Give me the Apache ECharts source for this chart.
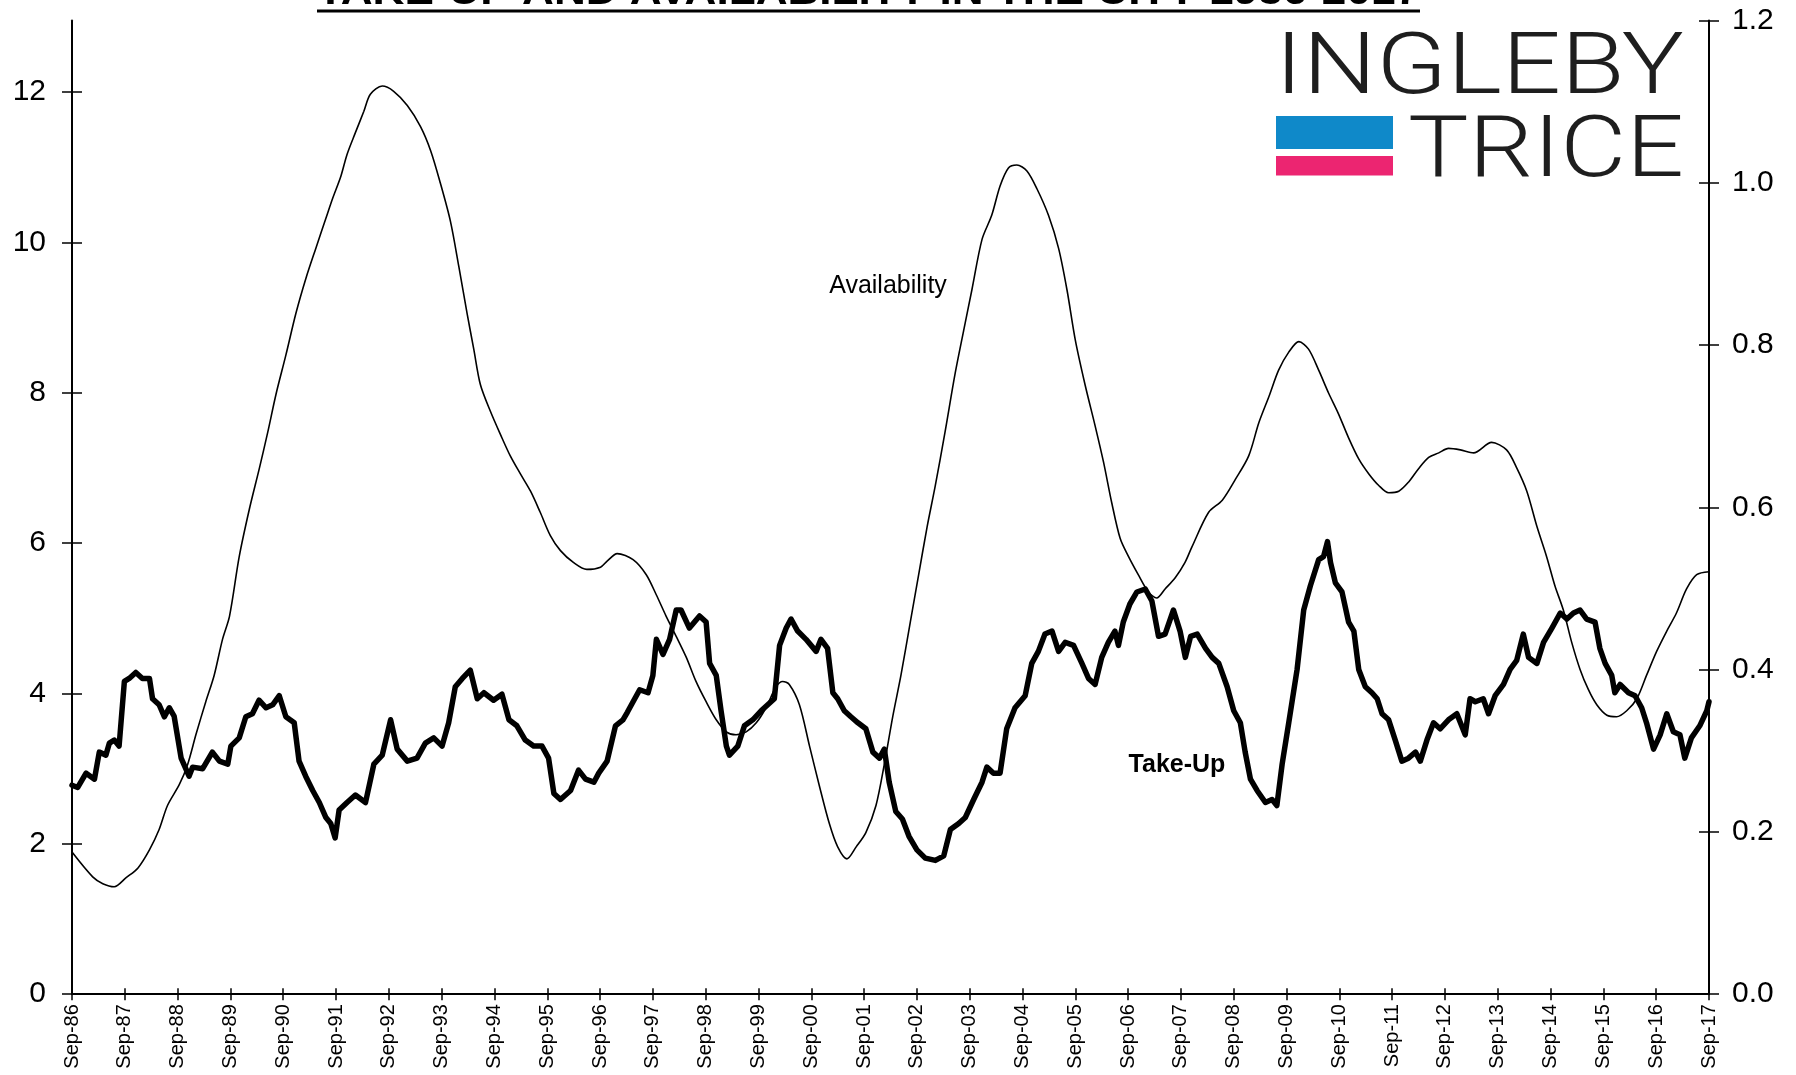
<!DOCTYPE html>
<html>
<head>
<meta charset="utf-8">
<script src="https://cdn.jsdelivr.net/npm/echarts/dist/echarts.min.js"></script>
<style>
html,body{margin:0;padding:0;background:#fff;}
#c{width:1796px;height:1075px;}
</style>
</head>
<body>
<div id="c"></div>
<script>
// ---- DATA ----
const xTickLabels = ['Sep-86','Sep-87','Sep-88','Sep-89','Sep-90','Sep-91','Sep-92','Sep-93','Sep-94','Sep-95','Sep-96','Sep-97','Sep-98','Sep-99','Sep-00','Sep-01','Sep-02','Sep-03','Sep-04','Sep-05','Sep-06','Sep-07','Sep-08','Sep-09','Sep-10','Sep-11','Sep-12','Sep-13','Sep-14','Sep-15','Sep-16','Sep-17'];
const leftTicks = [0, 2, 4, 6, 8, 10, 12];
const rightTicks = [0, 0.2, 0.4, 0.6, 0.8, 1.0, 1.2];

// months counted from Sep-86 (0) to Sep-17 (372)
const availMonths = [0,4.7,7.0,9.6,12.3,15.0,17.6,19.8,21.7,24.4,26.3,28.2,30.4,32.3,34.2,35.8,38.0,40.3,42.6,44.5,46.4,48.6,50.9,53.2,55.4,57.7,59.2,61.1,62.5,64.4,66.3,67.8,70.5,73.1,76.2,79.2,81.5,83.7,86.0,87.9,89.8,91.3,92.8,95.1,97.4,99.6,101.9,104.2,106.4,108.7,111.0,114.0,117.0,120.1,121.6,123.9,127.5,130.5,132.8,135.0,137.3,139.6,141.8,144.1,146.4,148.7,150.9,153.2,155.5,157.7,160.0,161.5,163.0,165.3,167.6,169.8,172.1,174.0,176.1,178.2,180.4,182.7,184.6,186.5,188.4,190.5,192.4,194.3,196.2,198.4,200.7,202.6,204.5,206.8,209.0,210.9,212.8,214.7,217.0,219.3,221.9,224.2,226.1,228.0,230.2,232.5,234.4,236.3,238.2,240.1,242.3,244.6,246.5,248.4,250.7,252.9,254.5,258.3,261.4,264.4,267.4,269.7,272.0,274.2,276.5,278.8,281.0,283.3,285.6,287.8,290.1,292.4,294.7,296.9,299.2,301.5,303.7,306.0,308.3,310.6,312.8,315.5,318.5,322.6,326.0,328.3,330.6,332.9,335.1,337.0,338.9,340.8,342.7,344.6,346.5,348.8,351.0,353.3,355.6,357.8,360.1,362.4,364.6,366.9,369.2,372];
const availValues = [1.89,1.56,1.47,1.43,1.55,1.68,1.92,2.19,2.51,2.79,3.06,3.46,3.89,4.24,4.72,5.03,5.82,6.45,7.00,7.48,7.99,8.50,9.06,9.53,9.92,10.32,10.58,10.88,11.17,11.46,11.74,11.97,12.08,12.01,11.82,11.54,11.22,10.79,10.28,9.68,9.05,8.58,8.11,7.75,7.44,7.16,6.92,6.69,6.41,6.10,5.90,5.74,5.65,5.68,5.76,5.86,5.78,5.58,5.31,5.03,4.76,4.48,4.16,3.89,3.65,3.49,3.45,3.49,3.61,3.81,4.09,4.16,4.12,3.85,3.30,2.78,2.27,1.96,1.80,1.96,2.15,2.51,3.06,3.69,4.25,4.95,5.58,6.21,6.77,7.48,8.26,8.82,9.37,10.04,10.36,10.75,10.99,11.03,10.95,10.71,10.36,9.92,9.37,8.70,8.11,7.56,7.08,6.53,6.06,5.82,5.58,5.35,5.27,5.39,5.54,5.74,5.95,6.41,6.57,6.85,7.16,7.60,7.95,8.30,8.54,8.68,8.58,8.30,7.99,7.72,7.40,7.12,6.92,6.77,6.67,6.69,6.81,6.99,7.14,7.20,7.26,7.24,7.20,7.34,7.24,7.00,6.69,6.22,5.82,5.43,5.11,4.68,4.32,4.05,3.85,3.71,3.69,3.77,3.93,4.24,4.56,4.83,5.07,5.39,5.58,5.62];

const takeUpMonths = [0,1.3,3.2,5.1,6.2,7.7,8.5,9.6,10.7,11.9,13.0,14.5,16.0,17.6,18.3,19.8,21.0,22.1,23.2,24.8,26.6,27.4,29.7,31.9,33.5,35.4,36.1,38.0,39.5,41.0,42.5,44.1,45.6,47.1,48.6,50.5,51.6,53.1,54.7,56.2,57.7,58.8,59.8,60.7,62.5,64.4,66.7,68.6,70.5,72.4,73.9,76.2,78.4,80.3,82.2,84.1,85.6,87.1,88.7,90.5,92.1,93.6,95.8,97.7,99.3,101.1,103.0,104.9,106.8,108.3,109.5,111.0,113.3,115.1,116.7,118.6,119.7,121.6,123.5,125.2,126.2,127.5,129.0,130.9,132.0,132.8,134.3,135.8,137.3,138.4,140.3,142.6,144.1,144.9,146.4,147.5,148.7,149.4,151.3,152.8,154.7,156.6,158.1,159.6,160.8,162.3,163.4,164.9,166.8,169.1,170.2,171.7,172.9,174.0,175.5,177.0,178.6,180.4,182.0,183.5,184.6,185.7,187.2,188.7,190.2,192.0,193.9,196.2,198.1,199.6,201.5,203.0,204.9,206.8,207.9,209.4,210.9,212.4,214.3,216.6,218.1,219.6,221.1,222.7,224.2,225.7,227.6,229.5,231.0,232.5,234.0,235.5,237.0,237.8,238.9,240.4,242.0,243.9,245.4,246.9,248.4,250.3,251.8,253.0,254.2,255.7,257.6,259.1,260.6,262.5,264.0,265.5,266.6,267.8,269.3,271.2,272.7,273.8,275.0,276.5,278.4,279.9,281.4,283.3,284.4,285.3,286.0,287.1,288.6,290.1,291.3,292.4,293.9,295.4,296.6,297.7,299.2,300.7,302.2,303.7,305.3,306.4,307.9,309.4,310.9,312.8,314.7,316.6,317.7,318.9,320.7,321.9,323.4,325.3,326.8,328.3,329.8,331.0,332.9,334.4,336.3,338.2,339.7,341.2,342.7,344.2,346.1,347.2,348.4,349.9,350.6,351.8,353.7,355.2,356.7,357.8,359.4,360.9,362.4,363.9,365.4,366.5,368.0,369.9,371.5,372];
const takeUpValues = [2.78,2.75,2.94,2.86,3.22,3.18,3.34,3.38,3.30,4.16,4.20,4.28,4.20,4.20,3.93,3.85,3.69,3.81,3.70,3.14,2.90,3.02,3.00,3.22,3.10,3.06,3.30,3.41,3.69,3.73,3.91,3.81,3.85,3.97,3.69,3.61,3.10,2.90,2.71,2.55,2.35,2.27,2.08,2.45,2.55,2.65,2.55,3.06,3.18,3.65,3.26,3.10,3.14,3.34,3.41,3.30,3.61,4.09,4.20,4.31,3.93,4.01,3.91,3.99,3.65,3.57,3.38,3.30,3.30,3.14,2.67,2.59,2.71,2.98,2.86,2.82,2.94,3.10,3.57,3.65,3.75,3.89,4.05,4.01,4.24,4.72,4.52,4.72,5.11,5.11,4.87,5.03,4.95,4.40,4.24,3.77,3.30,3.18,3.30,3.57,3.65,3.77,3.85,3.93,4.64,4.87,4.99,4.83,4.72,4.56,4.72,4.60,4.01,3.93,3.77,3.69,3.61,3.53,3.22,3.14,3.26,2.82,2.43,2.33,2.10,1.92,1.81,1.78,1.84,2.19,2.27,2.35,2.59,2.82,3.02,2.94,2.94,3.53,3.81,3.97,4.40,4.56,4.79,4.83,4.56,4.68,4.64,4.40,4.20,4.12,4.48,4.68,4.83,4.64,4.95,5.19,5.35,5.39,5.23,4.76,4.79,5.11,4.83,4.48,4.76,4.79,4.60,4.48,4.40,4.09,3.77,3.61,3.22,2.86,2.71,2.55,2.59,2.51,3.06,3.61,4.32,5.11,5.43,5.78,5.82,6.02,5.74,5.47,5.35,4.95,4.83,4.32,4.09,4.01,3.93,3.73,3.65,3.38,3.10,3.14,3.22,3.10,3.38,3.61,3.53,3.65,3.73,3.45,3.93,3.89,3.93,3.73,3.97,4.12,4.32,4.44,4.79,4.48,4.40,4.68,4.87,5.07,4.99,5.07,5.11,4.99,4.95,4.60,4.40,4.24,4.01,4.12,4.01,3.97,3.81,3.61,3.26,3.45,3.73,3.49,3.45,3.14,3.41,3.57,3.77,3.89];

// ---- helpers ----
const FONT = '"Liberation Sans", Arial, sans-serif';
const ctx = document.createElement('canvas').getContext('2d');
function fitScale(text, font, width) { ctx.font = font; return width / ctx.measureText(text).width; }

const availData = availMonths.map((m, i) => [m, availValues[i]]);
const takeUpData = takeUpMonths.map((m, i) => [m, takeUpValues[i]]);

const titleText = 'TAKE-UP AND AVAILABILITY IN THE CITY 1986-2017';
const titleFont = 'bold 40px ' + FONT;
const logoFont = '300 86px Roboto, "Liberation Sans", sans-serif';

const black = '#000';
const tickStyle = { color: black, width: 1.5 };

const option = {
  animation: false,
  backgroundColor: '#fff',
  grid: { left: 72, right: 87, top: 20.6, bottom: 80.8, containLabel: false },
  xAxis: [
    {
      type: 'value', min: 0, max: 372, interval: 12, position: 'bottom',
      axisLine: { show: true, onZero: false, lineStyle: { color: black, width: 2 } },
      axisTick: { show: true, inside: false, length: 6, lineStyle: tickStyle },
      axisLabel: {
        rotate: 90, margin: 10, fontSize: 20, fontFamily: FONT, color: black,
        formatter: v => xTickLabels[Math.round(v / 12)]
      },
      splitLine: { show: false }
    },
    {
      type: 'value', min: 0, max: 372, interval: 12, position: 'bottom',
      axisLine: { show: false, onZero: false },
      axisTick: { show: true, inside: true, length: 6, lineStyle: tickStyle },
      axisLabel: { show: false },
      splitLine: { show: false }
    }
  ],
  yAxis: [
    {
      type: 'value', min: 0, max: 12.95, position: 'left',
      axisLine: { show: true, onZero: false, lineStyle: { color: black, width: 2 } },
      axisTick: { show: true, inside: false, length: 10, lineStyle: tickStyle, customValues: leftTicks },
      axisLabel: { margin: 26, fontSize: 30, fontFamily: FONT, color: black, customValues: leftTicks, formatter: v => String(v) },
      splitLine: { show: false }
    },
    {
      type: 'value', min: 0, max: 1.2, position: 'right',
      axisLine: { show: true, onZero: false, lineStyle: { color: black, width: 2 } },
      axisTick: { show: true, inside: false, length: 10, lineStyle: tickStyle, customValues: rightTicks },
      axisLabel: { margin: 23, fontSize: 30, fontFamily: FONT, color: black, customValues: rightTicks, formatter: v => v.toFixed(1) },
      splitLine: { show: false }
    },
    {
      type: 'value', min: 0, max: 12.95, position: 'left',
      axisLine: { show: false, onZero: false },
      axisTick: { show: true, inside: true, length: 10, lineStyle: tickStyle, customValues: leftTicks },
      axisLabel: { show: false },
      splitLine: { show: false }
    },
    {
      type: 'value', min: 0, max: 1.2, position: 'right',
      axisLine: { show: false, onZero: false },
      axisTick: { show: true, inside: true, length: 10, lineStyle: tickStyle, customValues: rightTicks },
      axisLabel: { show: false },
      splitLine: { show: false }
    }
  ],
  series: [
    {
      name: 'Availability', type: 'line', xAxisIndex: 0, yAxisIndex: 0,
      data: availData, showSymbol: false, smooth: 0.3,
      lineStyle: { color: black, width: 1.6 }, z: 2
    },
    {
      name: 'Take-Up', type: 'line', xAxisIndex: 0, yAxisIndex: 0,
      data: takeUpData, showSymbol: false, smooth: false,
      lineStyle: { color: black, width: 5.5, join: 'round', cap: 'round' }, z: 3
    }
  ],
  graphic: [
    {
      type: 'text', x: 317, y: -7.3, scaleX: fitScale(titleText, titleFont, 1103),
      style: { text: titleText, font: titleFont, fill: black, textAlign: 'left', textVerticalAlign: 'middle' }
    },
    { type: 'rect', shape: { x: 317, y: 9.5, width: 1103, height: 3 }, style: { fill: black } },
    {
      type: 'text', x: 1275, y: 71, scaleX: fitScale('INGLEBY', logoFont, 409),
      style: { text: 'INGLEBY', font: logoFont, fill: '#1e1e1e', textAlign: 'left', textVerticalAlign: 'middle' }
    },
    {
      type: 'text', x: 1408, y: 154, scaleX: fitScale('TRICE', logoFont, 276),
      style: { text: 'TRICE', font: logoFont, fill: '#1e1e1e', textAlign: 'left', textVerticalAlign: 'middle' }
    },
    { type: 'rect', shape: { x: 1276, y: 116, width: 117, height: 33 }, style: { fill: '#0f89c9' } },
    { type: 'rect', shape: { x: 1276, y: 156, width: 117, height: 19.5 }, style: { fill: '#ec2571' } },
    {
      type: 'text', x: 888, y: 286,
      style: { text: 'Availability', font: 'normal 25px ' + FONT, fill: black, textAlign: 'center', textVerticalAlign: 'middle' }
    },
    {
      type: 'text', x: 1177, y: 765.5,
      style: { text: 'Take-Up', font: 'bold 25px ' + FONT, fill: black, textAlign: 'center', textVerticalAlign: 'middle' }
    }
  ]
};

const chart = echarts.init(document.getElementById('c'), null, { renderer: 'canvas' });
chart.setOption(option);
</script>
</body>
</html>
